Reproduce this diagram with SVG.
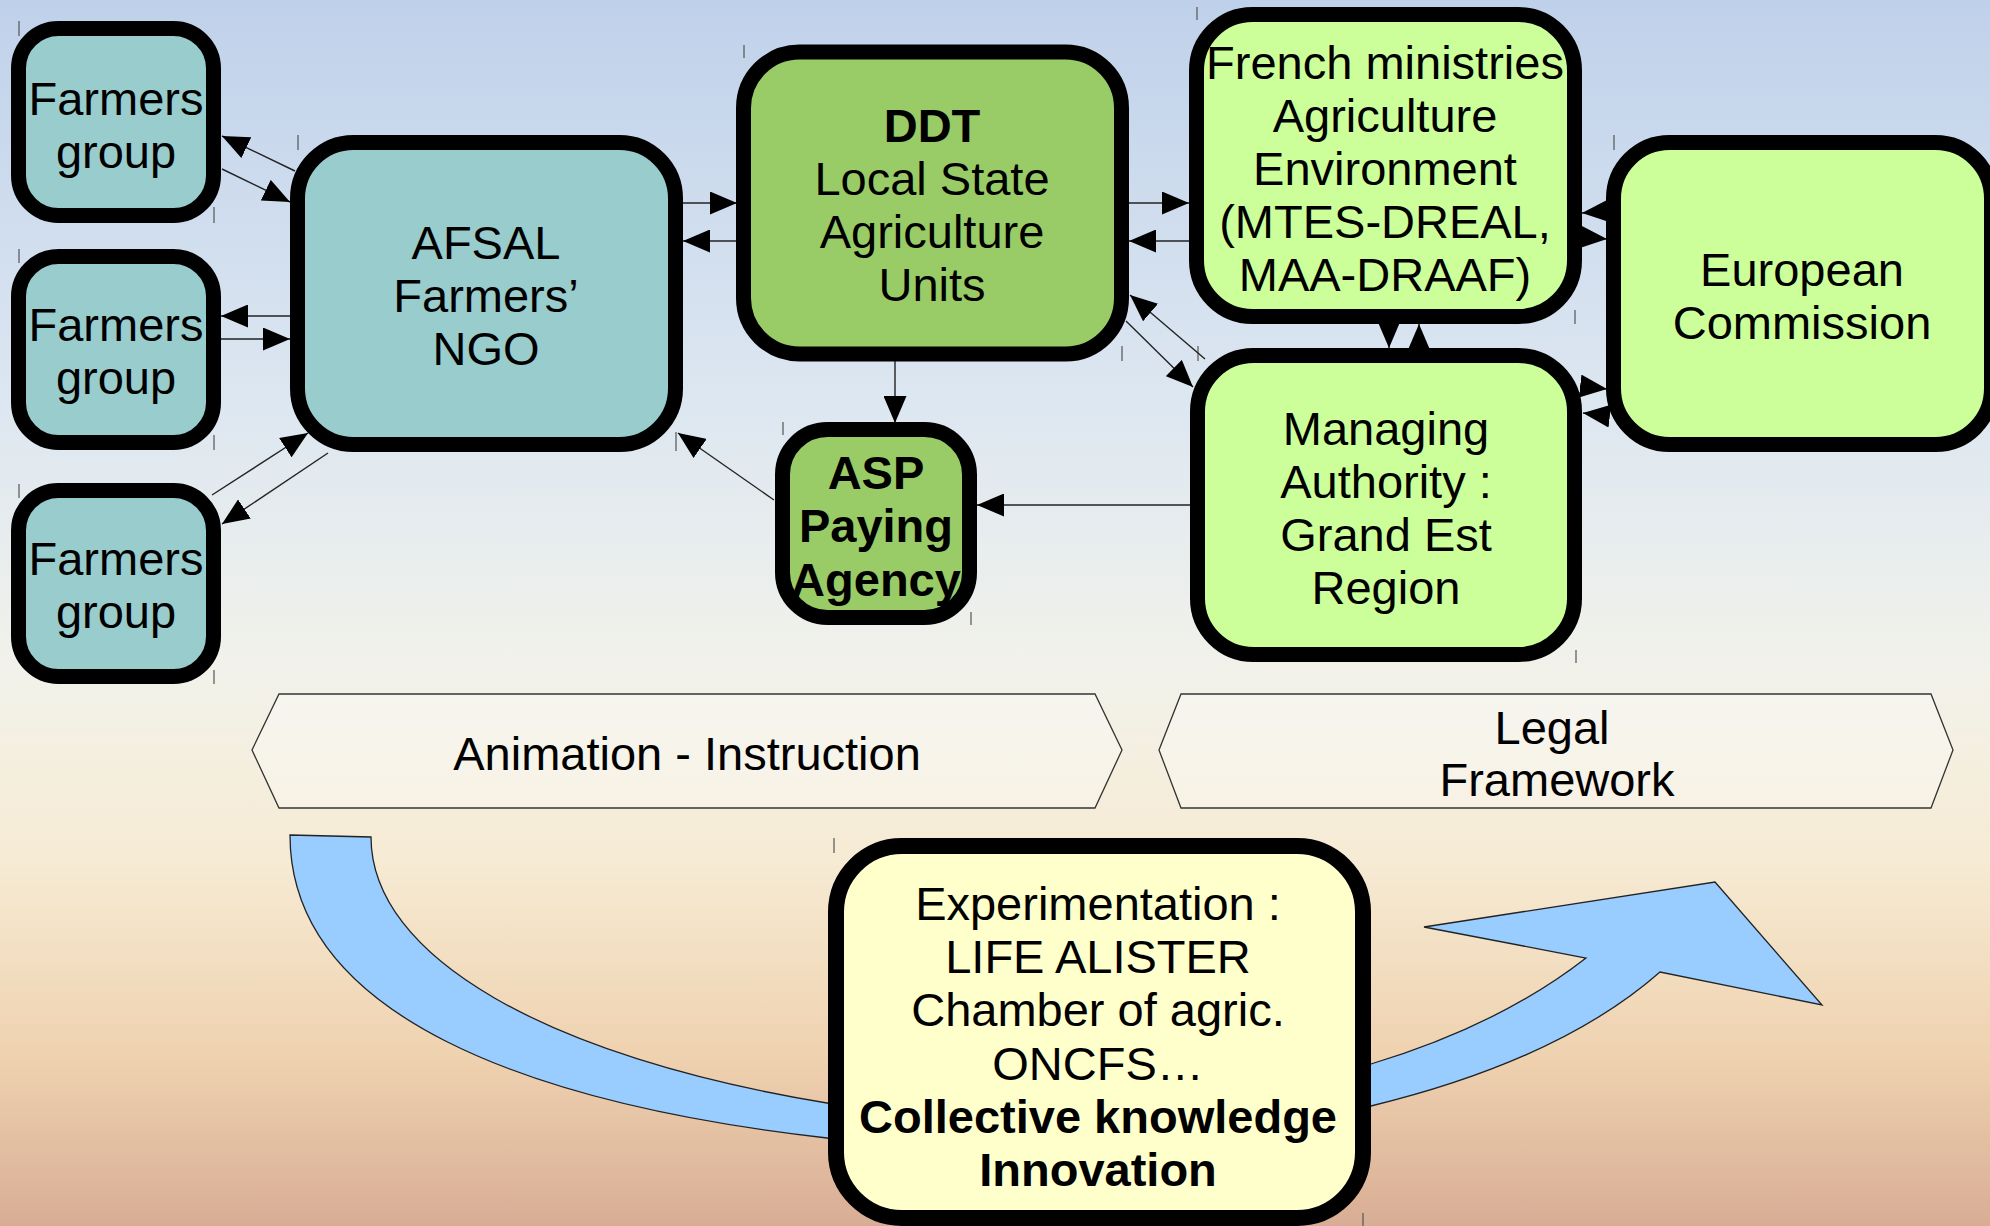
<svg xmlns="http://www.w3.org/2000/svg" width="1990" height="1226" viewBox="0 0 1990 1226">
<defs>
<linearGradient id="bg" x1="0" y1="0" x2="0" y2="1">
<stop offset="0" stop-color="#bfd1ea"/>
<stop offset="0.33" stop-color="#dde7f1"/>
<stop offset="0.55" stop-color="#f2f2ea"/>
<stop offset="0.7" stop-color="#f6ebd4"/>
<stop offset="0.86" stop-color="#efd2b0"/>
<stop offset="1" stop-color="#d8ad95"/>
</linearGradient>
<marker id="ah" viewBox="0 0 27 23" markerUnits="userSpaceOnUse" markerWidth="27" markerHeight="23" refX="27" refY="11.5" orient="auto">
<path d="M0,0 L27,11.5 L0,23 Z" fill="#000"/>
</marker>
<style>
.box{stroke:#000;stroke-width:15}
.teal{fill:#99cccc}
.green{fill:#99cc66}
.lgreen{fill:#ccff99}
.yellow{fill:#ffffcc}
.t{font-family:"Liberation Sans",Arial,sans-serif;font-size:47px;fill:#000;text-anchor:middle}
.b{font-weight:bold}
.con{stroke:#222;stroke-width:1.4;fill:none;marker-end:url(#ah)}
.banner{fill:#ffffff;fill-opacity:0.3;stroke:#333;stroke-width:1.3}
.band{fill:#99ccff;stroke:#222;stroke-width:1.3}
.tick{stroke:#555;stroke-width:1.2}
</style>
</defs>
<rect x="0" y="0" width="1990" height="1226" fill="url(#bg)"/>

<g id="ticks">
<line class="tick" x1="19" y1="21" x2="19" y2="36"/>
<line class="tick" x1="214" y1="207" x2="214" y2="223"/>
<line class="tick" x1="298" y1="135" x2="298" y2="150"/>
<line class="tick" x1="19" y1="249" x2="19" y2="263"/>
<line class="tick" x1="214" y1="435" x2="214" y2="450"/>
<line class="tick" x1="19" y1="484" x2="19" y2="498"/>
<line class="tick" x1="214" y1="670" x2="214" y2="684"/>
<line class="tick" x1="676" y1="432" x2="676" y2="451"/>
<line class="tick" x1="744" y1="45" x2="744" y2="58"/>
<line class="tick" x1="1122" y1="346" x2="1122" y2="361"/>
<line class="tick" x1="783" y1="422" x2="783" y2="435"/>
<line class="tick" x1="971" y1="612" x2="971" y2="625"/>
<line class="tick" x1="1197" y1="7" x2="1197" y2="20"/>
<line class="tick" x1="1198" y1="346" x2="1198" y2="361"/>
<line class="tick" x1="1614" y1="135" x2="1614" y2="150"/>
<line class="tick" x1="1575" y1="310" x2="1575" y2="324"/>
<line class="tick" x1="1576" y1="650" x2="1576" y2="663"/>
<line class="tick" x1="834" y1="838" x2="834" y2="853"/>
<line class="tick" x1="1363" y1="1213" x2="1363" y2="1226"/>
</g>

<g id="banner-animation">
<polygon class="banner" points="252,750 279,694 1095,694 1122,750 1095,808 279,808"/>
<text class="t" x="687" y="770">Animation - Instruction</text>
</g>
<g id="banner-legal">
<polygon class="banner" points="1159,750 1181,694 1931,694 1953,750 1931,808 1181,808"/>
<text class="t"><tspan x="1552" y="744">Legal</tspan><tspan x="1557" y="796">Framework</tspan></text>
</g>

<g id="cycle-arrow">
<path class="band" d="M290,835 L371,837 C371,957 547,1057 827,1103 L859,1108 L859,1142 L827,1138 C527,1104 290,1015 290,835 Z"/>
<path class="band" d="M1340,1073 L1371,1064 Q1500,1025 1586,958 L1424,927 L1715,882 L1822,1005 L1660,972 Q1560,1060 1371,1106 L1340,1114 Z"/>
</g>

<g id="connectors">
<line class="con" x1="295" y1="171" x2="222" y2="136"/>
<line class="con" x1="222" y1="169" x2="290" y2="202"/>
<line class="con" x1="290" y1="316" x2="221" y2="316"/>
<line class="con" x1="221" y1="339" x2="290" y2="339"/>
<line class="con" x1="212" y1="495" x2="308" y2="433"/>
<line class="con" x1="328" y1="453" x2="222" y2="524"/>
<line class="con" x1="683" y1="203" x2="737" y2="203"/>
<line class="con" x1="736" y1="241" x2="683" y2="241"/>
<line class="con" x1="1129" y1="203" x2="1189" y2="203"/>
<line class="con" x1="1189" y1="241" x2="1129" y2="241"/>
<line class="con" x1="1205" y1="359" x2="1130" y2="295"/>
<line class="con" x1="1126" y1="321" x2="1193" y2="387"/>
<line class="con" x1="895" y1="361" x2="895" y2="423"/>
<line class="con" x1="774" y1="500" x2="678" y2="433"/>
<line class="con" x1="1191" y1="505" x2="977" y2="505"/>
<line class="con" x1="1607" y1="211" x2="1582" y2="213"/>
<line class="con" x1="1582" y1="237" x2="1607" y2="239"/>
<line class="con" x1="1580" y1="386" x2="1607" y2="389"/>
<line class="con" x1="1609" y1="416" x2="1583" y2="413"/>
<line class="con" x1="1389" y1="323" x2="1389" y2="348"/>
<line class="con" x1="1419" y1="348" x2="1419" y2="324"/>
</g>

<g id="farmers-group-1">
<rect class="box teal" x="18.5" y="28.5" width="195" height="187" rx="40"/>
<text class="t"><tspan x="116" y="115">Farmers</tspan><tspan x="116" y="168">group</tspan></text>
</g>
<g id="farmers-group-2">
<rect class="box teal" x="18.5" y="256.5" width="195" height="186" rx="40"/>
<text class="t"><tspan x="116" y="341">Farmers</tspan><tspan x="116" y="394">group</tspan></text>
</g>
<g id="farmers-group-3">
<rect class="box teal" x="18.5" y="490.5" width="195" height="186" rx="40"/>
<text class="t"><tspan x="116" y="575">Farmers</tspan><tspan x="116" y="628">group</tspan></text>
</g>
<g id="afsal">
<rect class="box teal" x="297.5" y="142.5" width="378" height="302" rx="56"/>
<text class="t"><tspan x="486" y="259">AFSAL</tspan><tspan x="486" y="312">Farmers’</tspan><tspan x="486" y="365">NGO</tspan></text>
</g>
<g id="ddt">
<rect class="box green" x="743.5" y="52" width="378" height="302" rx="56"/>
<text class="t"><tspan class="b" x="932" y="142">DDT</tspan><tspan x="932" y="195">Local State</tspan><tspan x="932" y="248">Agriculture</tspan><tspan x="932" y="301">Units</tspan></text>
</g>
<g id="asp">
<rect class="box green" x="782.5" y="429.5" width="187" height="188" rx="45"/>
<text class="t b"><tspan x="876" y="489">ASP</tspan><tspan x="876" y="542">Paying</tspan><tspan x="876" y="596">Agency</tspan></text>
</g>
<g id="french-ministries">
<rect class="box lgreen" x="1196.5" y="14.5" width="378" height="302" rx="56"/>
<text class="t"><tspan x="1385" y="79">French ministries</tspan><tspan x="1385" y="132">Agriculture</tspan><tspan x="1385" y="185">Environment</tspan><tspan x="1385" y="238">(MTES-DREAL,</tspan><tspan x="1385" y="291">MAA-DRAAF)</tspan></text>
</g>
<g id="managing-authority">
<rect class="box lgreen" x="1197.5" y="355.5" width="377" height="299" rx="56"/>
<text class="t"><tspan x="1386" y="445">Managing</tspan><tspan x="1386" y="498">Authority :</tspan><tspan x="1386" y="551">Grand Est</tspan><tspan x="1386" y="604">Region</tspan></text>
</g>
<g id="european-commission">
<rect class="box lgreen" x="1613.5" y="142.5" width="378" height="302" rx="56"/>
<text class="t"><tspan x="1802" y="286">European</tspan><tspan x="1802" y="339">Commission</tspan></text>
</g>
<g id="experimentation">
<rect class="box yellow" x="836" y="846" width="527" height="372" rx="66" style="stroke-width:16"/>
<text class="t"><tspan x="1098" y="920">Experimentation :</tspan><tspan x="1098" y="973">LIFE ALISTER</tspan><tspan x="1098" y="1026">Chamber of agric.</tspan><tspan x="1098" y="1080">ONCFS…</tspan><tspan class="b" x="1098" y="1133">Collective knowledge</tspan><tspan class="b" x="1098" y="1186">Innovation</tspan></text>
</g>
</svg>
